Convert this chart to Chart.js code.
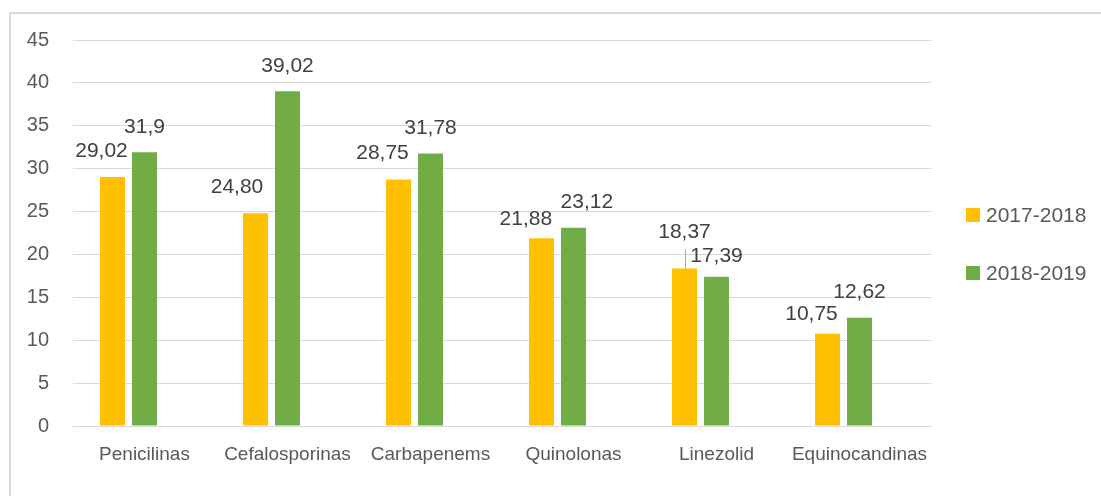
<!DOCTYPE html>
<html>
<head>
<meta charset="utf-8">
<script src="https://cdn.jsdelivr.net/npm/chart.js@4.4.0/dist/chart.umd.min.js"></script>
<style>
  html, body { margin: 0; padding: 0; background: #fff; }
  #wrap { position: relative; width: 1101px; height: 496px; }
</style>
</head>
<body>
<div id="wrap"><canvas id="grafico"></canvas></div>
<script>
// categorias e valores
const categorias = ["Penicilinas", "Cefalosporinas", "Carbapenems", "Quinolonas", "Linezolid", "Equinocandinas"];
const serie1 = [29.02, 24.80, 28.75, 21.88, 18.37, 10.75];
const serie2 = [31.9, 39.02, 31.78, 23.12, 17.39, 12.62];
const rotulos1 = ["29,02", "24,80", "28,75", "21,88", "18,37", "10,75"];
const rotulos2 = ["31,9", "39,02", "31,78", "23,12", "17,39", "12,62"];
const nomesSeries = ["2017-2018", "2018-2019"];
const ticksY = [0, 5, 10, 15, 20, 25, 30, 35, 40, 45];

// deslocamentos manuais dos rótulos (px): dx horizontal, dy acima do topo da barra
const desloc1 = [[-11, 25.5], [-18.5, 25.7], [-16, 26.5], [-15.7, 19.5], [0, 36], [-16, 20]];
const desloc2 = [[0, 25.5], [0, 25], [0, 25], [13.3, 25], [0, 20.6], [0, 25.6]];

const cores = ["#FFC000", "#70AD47"];

// borda externa (só topo e esquerda aparecem)
const borda = {
    id: "borda",
    beforeDraw(chart) {
        const c = chart.ctx;
        c.save();
        c.strokeStyle = "#d9d9d9";
        c.lineWidth = 2;
        c.beginPath();
        c.moveTo(10, 496);
        c.lineTo(10, 13);
        c.lineTo(1101, 13);
        c.stroke();
        c.restore();
    }
};

// rótulos de dados
const rotulos = {
    id: "rotulos",
    afterDatasetsDraw(chart) {
        const c = chart.ctx;
        c.save();
        c.font = "21px 'Liberation Sans', Arial, sans-serif";
        c.fillStyle = "#404040";
        c.textAlign = "center";
        c.textBaseline = "middle";
        [[rotulos1, desloc1], [rotulos2, desloc2]].forEach(([txt, desl], ds) => {
            const meta = chart.getDatasetMeta(ds);
            meta.data.forEach((bar, i) => {
                const x = bar.x + desl[i][0];
                const y = bar.y - desl[i][1];
                c.fillText(txt[i], x, y);
                if (desl[i][1] > 30) {
                    // linha guia
                    c.strokeStyle = "#a6a6a6";
                    c.lineWidth = 1;
                    c.beginPath();
                    c.moveTo(Math.round(bar.x) + 0.5, y + 17);
                    c.lineTo(Math.round(bar.x) + 0.5, bar.y);
                    c.stroke();
                }
            });
        });
        c.restore();
    }
};

// legenda desenhada à mão
const legenda = {
    id: "legenda",
    afterDraw(chart) {
        const c = chart.ctx;
        c.save();
        c.font = "21px 'Liberation Sans', Arial, sans-serif";
        c.textBaseline = "middle";
        nomesSeries.forEach((nome, i) => {
            const y = 215 + i * 58;
            c.fillStyle = cores[i];
            c.fillRect(966, y - 7, 14, 14);
            c.fillStyle = "#595959";
            c.fillText(nome, 986, y + 1);
        });
        c.restore();
    }
};

const ctx = document.getElementById("grafico").getContext("2d");
new Chart(ctx, {
    type: "bar",
    data: {
        labels: categorias,
        datasets: [
            { label: nomesSeries[0], data: serie1, backgroundColor: cores[0] },
            { label: nomesSeries[1], data: serie2, backgroundColor: cores[1] },
            { label: "", data: categorias.map(() => null), backgroundColor: "transparent" } // série vazia do original
        ]
    },
    options: {
        responsive: true,
        maintainAspectRatio: false,
        animation: false,
        categoryPercentage: 0.671,
        barPercentage: 0.78,
        layout: { padding: { left: 0, right: 170, top: 40, bottom: 0 } },
        plugins: {
            legend: { display: false },
            tooltip: { enabled: false }
        },
        scales: {
            x: {
                grid: { display: false, drawTicks: false },
                border: { color: "#d9d9d9", width: 1 },
                ticks: {
                    color: "#595959",
                    font: { family: "'Liberation Sans', Arial, sans-serif", size: 19 },
                    padding: 17,
                    maxRotation: 0
                },
                afterFit(scale) { scale.height = 70; }
            },
            y: {
                min: 0,
                max: 45,
                afterBuildTicks(scale) { scale.ticks = ticksY.map(v => ({ value: v })); },
                grid: { color: "#d9d9d9", drawTicks: false },
                border: { display: false },
                ticks: {
                    color: "#595959",
                    font: { family: "'Liberation Sans', Arial, sans-serif", size: 20 },
                    padding: 24
                },
                afterFit(scale) { scale.width = 73; }
            }
        }
    },
    plugins: [borda, rotulos, legenda]
});
</script>
</body>
</html>
